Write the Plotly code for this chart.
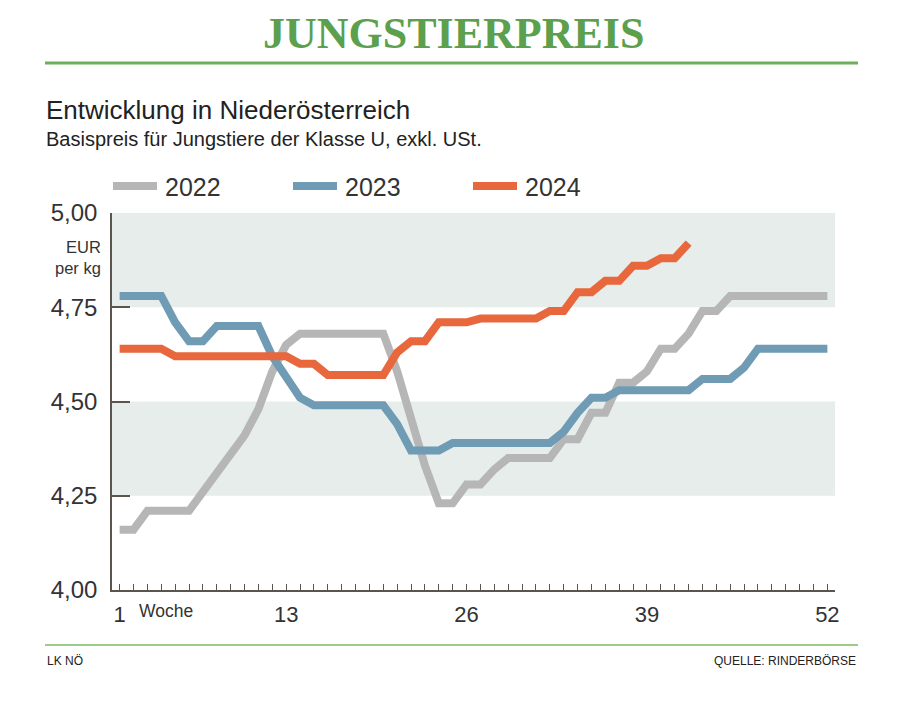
import plotly.graph_objects as go

# ---------------- data ----------------
weeks = list(range(1, 53))

price_2022 = [4.16, 4.16, 4.21, 4.21, 4.21, 4.21, 4.26, 4.31, 4.36, 4.41,
              4.48, 4.58, 4.65, 4.68, 4.68, 4.68, 4.68, 4.68, 4.68, 4.68,
              4.58, 4.46, 4.33, 4.23, 4.23, 4.28, 4.28, 4.32, 4.35, 4.35,
              4.35, 4.35, 4.40, 4.40, 4.47, 4.47, 4.55, 4.55, 4.58, 4.64,
              4.64, 4.68, 4.74, 4.74, 4.78, 4.78, 4.78, 4.78, 4.78, 4.78,
              4.78, 4.78]

price_2023 = [4.78, 4.78, 4.78, 4.78, 4.71, 4.66, 4.66, 4.70, 4.70, 4.70,
              4.70, 4.62, 4.56, 4.51, 4.49, 4.49, 4.49, 4.49, 4.49, 4.49,
              4.44, 4.37, 4.37, 4.37, 4.39, 4.39, 4.39, 4.39, 4.39, 4.39,
              4.39, 4.39, 4.42, 4.47, 4.51, 4.51, 4.53, 4.53, 4.53, 4.53,
              4.53, 4.53, 4.56, 4.56, 4.56, 4.59, 4.64, 4.64, 4.64, 4.64,
              4.64, 4.64]

price_2024 = [4.64, 4.64, 4.64, 4.64, 4.62, 4.62, 4.62, 4.62, 4.62, 4.62,
              4.62, 4.62, 4.62, 4.60, 4.60, 4.57, 4.57, 4.57, 4.57, 4.57,
              4.63, 4.66, 4.66, 4.71, 4.71, 4.71, 4.72, 4.72, 4.72, 4.72,
              4.72, 4.74, 4.74, 4.79, 4.79, 4.82, 4.82, 4.86, 4.86, 4.88,
              4.88, 4.92]

series_names = ["2022", "2023", "2024"]
series_colors = ["#b6b6b6", "#6f9bb4", "#e8673d"]

y_tickvals = [4.00, 4.25, 4.50, 4.75, 5.00]
x_tickvals = [1, 13, 26, 39, 52]
bands = [(4.75, 5.00), (4.25, 4.50)]

# ---------------- layout geometry (page pixels) ----------------
OFF = 8  # default body margin of the html page
W, H = 897 - OFF, 702 - OFF
L, R, T, B = 112, 835, 213, 590  # plot area edges in page pixels


def px(x):
    return (x - L) / (R - L)


def py(y):
    return (B - y) / (B - T)


fig = go.Figure()
for name, vals, col in zip(series_names, [price_2022, price_2023, price_2024], series_colors):
    fig.add_trace(go.Scatter(
        x=weeks[:len(vals)], y=vals, mode="lines", name=name,
        line=dict(color=col, width=8), showlegend=False,
        hoverinfo="x+y"))

shapes = []
for y0, y1 in bands:
    shapes.append(dict(type="rect", xref="paper", yref="y", x0=0, x1=1, y0=y0, y1=y1,
                       fillcolor="#e6edeb", line=dict(width=0), layer="below"))
# title rule and footer rule
shapes.append(dict(type="line", xref="paper", yref="paper", x0=px(45), x1=px(858),
                   y0=py(63), y1=py(63), line=dict(color="#6fae5c", width=3)))
shapes.append(dict(type="line", xref="paper", yref="paper", x0=px(45), x1=px(858),
                   y0=py(645), y1=py(645), line=dict(color="#9ccb8a", width=2)))

annotations = []
FONT = "Liberation Sans, Arial, sans-serif"
annotations.append(dict(text="<b>JUNGSTIERPREIS</b>", xref="paper", yref="paper",
                        x=px(453), y=py(33), xanchor="center", yanchor="middle",
                        showarrow=False,
                        font=dict(family="Liberation Serif, Times New Roman, serif",
                                  size=44, color="#5c9f4d")))
annotations.append(dict(text="Entwicklung in Niederösterreich", xref="paper", yref="paper",
                        x=px(44), y=py(110), xanchor="left", yanchor="middle", showarrow=False,
                        font=dict(family=FONT, size=26, color="#222222")))
annotations.append(dict(text="Basispreis für Jungstiere der Klasse U, exkl. USt.",
                        xref="paper", yref="paper",
                        x=px(44), y=py(139), xanchor="left", yanchor="middle", showarrow=False,
                        font=dict(family=FONT, size=20, color="#222222")))

# manual legend
leg_x = [113, 293, 473]
for xs, name, col in zip(leg_x, series_names, series_colors):
    shapes.append(dict(type="line", xref="paper", yref="paper", x0=px(xs), x1=px(xs + 44),
                       y0=py(186), y1=py(186), line=dict(color=col, width=8)))
    annotations.append(dict(text=name, xref="paper", yref="paper", x=px(xs + 50), y=py(187),
                            xanchor="left", yanchor="middle", showarrow=False,
                            font=dict(family=FONT, size=25, color="#333333")))

# unit label
annotations.append(dict(text="EUR<br>per kg", xref="paper", yref="paper",
                        x=px(103), y=py(257), xanchor="right", yanchor="middle",
                        showarrow=False, align="right",
                        font=dict(family=FONT, size=16.5, color="#333333")))
annotations.append(dict(text="Woche", xref="paper", yref="paper",
                        x=px(137), y=py(611), xanchor="left", yanchor="middle",
                        showarrow=False, font=dict(family=FONT, size=17.5, color="#333333")))
# footer
annotations.append(dict(text="LK NÖ", xref="paper", yref="paper",
                        x=px(45), y=py(661), xanchor="left", yanchor="middle",
                        showarrow=False, font=dict(family=FONT, size=12, color="#222222")))
annotations.append(dict(text="QUELLE: RINDERBÖRSE", xref="paper", yref="paper",
                        x=px(858), y=py(661), xanchor="right", yanchor="middle",
                        showarrow=False, font=dict(family=FONT, size=12, color="#222222")))

AXC = "#5b5550"
fig.update_layout(
    width=W, height=H, autosize=False,
    margin=dict(l=L - OFF, r=897 - R, t=T - OFF, b=702 - B, pad=0),
    paper_bgcolor="white", plot_bgcolor="white",
    separators=",.",
    shapes=shapes, annotations=annotations,
    showlegend=False,
    xaxis=dict(range=[0.45, 52.55], tickmode="array", tickvals=x_tickvals,
               ticktext=[str(v) for v in x_tickvals],
               ticks="inside", ticklen=6, tickwidth=1.2, tickcolor=AXC,
               showline=True, linecolor=AXC, linewidth=1.5,
               showgrid=False, zeroline=False,
               tickfont=dict(family=FONT, size=22, color="#333333"),
               ticklabelstandoff=4,
               minor=dict(tickmode="array", tickvals=weeks, ticks="inside",
                          ticklen=6, tickwidth=1.2, tickcolor=AXC, showgrid=False)),
    yaxis=dict(range=[4.0, 5.0], tickmode="array", tickvals=y_tickvals,
               tickformat=".2f", ticks="inside", ticklen=18, tickwidth=1.5, tickcolor=AXC,
               showline=True, linecolor=AXC, linewidth=1.5,
               showgrid=False, zeroline=False,
               tickfont=dict(family=FONT, size=24, color="#333333"),
               ticklabelstandoff=8),
)

fig.write_html("out.html")
